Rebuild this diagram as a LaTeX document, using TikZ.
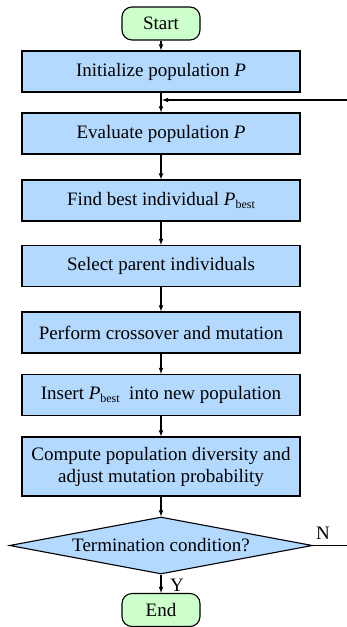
\documentclass[tikz,border=0pt]{standalone}
\usepackage{fontspec}
\setmainfont{Liberation Serif}
\usetikzlibrary{shapes.geometric}
\definecolor{boxblue}{RGB}{179,217,255}
\definecolor{termgreen}{RGB}{204,255,204}
\newcommand{\Pbest}{\textit{P}\raisebox{-0.35ex}{\fontsize{12}{12}\selectfont best}}
\tikzset{
  every node/.style={font=\rmfamily\fontsize{19}{22}\selectfont},
  procbox/.style={draw, fill=boxblue, minimum width=278pt, minimum height=41pt, align=center, inner sep=0pt, line width=1.1pt},
  termbox/.style={draw, fill=termgreen, rounded corners=10pt, minimum width=78pt, minimum height=33pt, inner sep=0pt, line width=1.1pt},
  decbox/.style={draw, fill=boxblue, diamond, aspect=5.3, minimum width=303pt, minimum height=57pt, inner sep=0pt, line width=1.1pt},
  arr/.style={-latex, line width=1.1pt}
}
\begin{document}
\begin{tikzpicture}[x=1pt,y=-1pt]
\useasboundingbox (0,0) rectangle (347,627);
\node[termbox] (start) at (161,23.5) {Start};
\node[procbox] (init) at (161,71.5) {Initialize population \textit{P}};
\node[procbox] (eval) at (161,133.5) {Evaluate population \textit{P}};
\node[procbox] (find) at (161,200.5) {Find best individual \Pbest};
\node[procbox] (select) at (161,266) {Select parent individuals};
\node[procbox] (cross) at (161,332.5) {Perform crossover and mutation};
\node[procbox] (insert) at (161,395) {Insert \Pbest\ \ into new population};
\node[procbox, minimum height=59pt] (div) at (161,466.5) {Compute population diversity and\\adjust mutation probability};
\node[decbox] (cond) at (161,545.5) {Termination condition?};
\node[termbox] (end) at (161,610) {End};
\coordinate (join) at (162,100);
\coordinate (redge) at (348.5,100);
\coordinate (nend) at (348.5,545.5);
\draw[arr] (start) -- (init);
\draw[arr] (init) -- (eval);
\draw[arr] (eval) -- (find);
\draw[arr] (find) -- (select);
\draw[arr] (select) -- (cross);
\draw[arr] (cross) -- (insert);
\draw[arr] (insert) -- (div);
\draw[arr] (div) -- (cond);
\draw[arr] (cond) -- (end);
\draw[arr] (cond.east) -- (nend) -- (redge) -- (join);
\node (nlab) at (323,533) {N};
\node (ylab) at (177,585) {Y};
\end{tikzpicture}
\end{document}
